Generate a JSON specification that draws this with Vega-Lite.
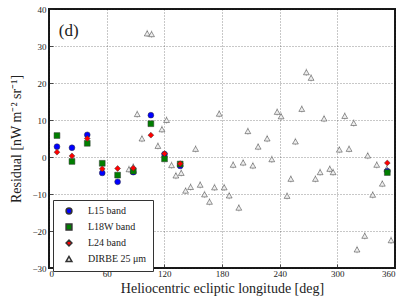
{
  "$schema": "https://vega.github.io/schema/vega-lite/v6.json",
  "autosize": {"type": "none"},
  "padding": {"left": 49, "top": 9, "right": 12, "bottom": 37},
  "width": 346,
  "height": 259,
  "background": "white",
  "config": {
    "view": {"stroke": "#1a1a1a", "strokeWidth": 2},
    "font": "Liberation Serif",
    "axis": {
      "labelFont": "Liberation Serif",
      "labelFontSize": 9,
      "labelColor": "#222",
      "labelOverlap": false,
      "titleFont": "Liberation Serif",
      "titleFontSize": 14,
      "titleFontWeight": "normal",
      "titleColor": "#222",
      "domain": false,
      "grid": true,
      "gridColor": "#000",
      "gridOpacity": 0.55,
      "gridDash": [1, 2],
      "gridWidth": 0.8,
      "ticks": true,
      "tickSize": -4,
      "tickColor": "#222",
      "tickWidth": 0.8
    },
    "legend": {
      "labelFont": "Liberation Serif",
      "labelFontSize": 10,
      "labelColor": "#222"
    }
  },
  "data": {
    "values": [
      {"s": "DIRBE 25 μm", "x": 83.2, "y": -3.3, "e": 1.0},
      {"s": "DIRBE 25 μm", "x": 87.7, "y": -2.6, "e": 1.0},
      {"s": "DIRBE 25 μm", "x": 91.8, "y": 11.6, "e": 1.0},
      {"s": "DIRBE 25 μm", "x": 96.7, "y": 5.0, "e": 1.0},
      {"s": "DIRBE 25 μm", "x": 102.2, "y": 33.4, "e": 1.0},
      {"s": "DIRBE 25 μm", "x": 106.7, "y": 33.2, "e": 1.0},
      {"s": "DIRBE 25 μm", "x": 113.3, "y": 3.0, "e": 1.0},
      {"s": "DIRBE 25 μm", "x": 117.5, "y": 7.5, "e": 1.0},
      {"s": "DIRBE 25 μm", "x": 122.3, "y": 10.0, "e": 1.0},
      {"s": "DIRBE 25 μm", "x": 127.5, "y": -2.2, "e": 1.0},
      {"s": "DIRBE 25 μm", "x": 132.0, "y": -5.0, "e": 1.0},
      {"s": "DIRBE 25 μm", "x": 137.6, "y": -4.3, "e": 1.0},
      {"s": "DIRBE 25 μm", "x": 142.1, "y": -9.1, "e": 1.0},
      {"s": "DIRBE 25 μm", "x": 147.3, "y": -8.1, "e": 1.0},
      {"s": "DIRBE 25 μm", "x": 152.5, "y": 2.2, "e": 1.0},
      {"s": "DIRBE 25 μm", "x": 157.3, "y": -7.5, "e": 1.0},
      {"s": "DIRBE 25 μm", "x": 161.8, "y": -10.1, "e": 1.0},
      {"s": "DIRBE 25 μm", "x": 167.0, "y": -12.1, "e": 1.0},
      {"s": "DIRBE 25 μm", "x": 172.2, "y": -8.2, "e": 1.0},
      {"s": "DIRBE 25 μm", "x": 177.1, "y": 11.7, "e": 1.0},
      {"s": "DIRBE 25 μm", "x": 182.3, "y": -8.2, "e": 1.0},
      {"s": "DIRBE 25 μm", "x": 187.5, "y": -10.4, "e": 1.0},
      {"s": "DIRBE 25 μm", "x": 191.6, "y": -2.1, "e": 1.0},
      {"s": "DIRBE 25 μm", "x": 197.5, "y": -13.7, "e": 1.0},
      {"s": "DIRBE 25 μm", "x": 202.0, "y": -1.5, "e": 1.0},
      {"s": "DIRBE 25 μm", "x": 206.9, "y": 7.0, "e": 1.0},
      {"s": "DIRBE 25 μm", "x": 212.1, "y": -2.3, "e": 1.0},
      {"s": "DIRBE 25 μm", "x": 217.6, "y": 2.8, "e": 1.0},
      {"s": "DIRBE 25 μm", "x": 227.0, "y": 5.0, "e": 1.0},
      {"s": "DIRBE 25 μm", "x": 231.8, "y": -0.6, "e": 1.0},
      {"s": "DIRBE 25 μm", "x": 237.4, "y": 12.2, "e": 1.0},
      {"s": "DIRBE 25 μm", "x": 241.5, "y": 11.0, "e": 1.0},
      {"s": "DIRBE 25 μm", "x": 247.7, "y": -10.5, "e": 1.0},
      {"s": "DIRBE 25 μm", "x": 251.6, "y": -5.9, "e": 1.0},
      {"s": "DIRBE 25 μm", "x": 256.4, "y": 4.2, "e": 1.0},
      {"s": "DIRBE 25 μm", "x": 263.0, "y": 13.0, "e": 1.0},
      {"s": "DIRBE 25 μm", "x": 267.8, "y": 22.9, "e": 1.0},
      {"s": "DIRBE 25 μm", "x": 272.7, "y": 21.4, "e": 1.0},
      {"s": "DIRBE 25 μm", "x": 277.2, "y": -5.9, "e": 1.0},
      {"s": "DIRBE 25 μm", "x": 282.1, "y": -4.1, "e": 1.0},
      {"s": "DIRBE 25 μm", "x": 286.2, "y": 10.4, "e": 1.0},
      {"s": "DIRBE 25 μm", "x": 292.1, "y": -3.2, "e": 1.0},
      {"s": "DIRBE 25 μm", "x": 295.6, "y": -4.1, "e": 1.0},
      {"s": "DIRBE 25 μm", "x": 302.1, "y": 2.0, "e": 1.0},
      {"s": "DIRBE 25 μm", "x": 307.7, "y": 11.1, "e": 1.0},
      {"s": "DIRBE 25 μm", "x": 312.2, "y": 2.2, "e": 1.0},
      {"s": "DIRBE 25 μm", "x": 317.0, "y": 9.2, "e": 1.0},
      {"s": "DIRBE 25 μm", "x": 320.5, "y": -25.0, "e": 1.0},
      {"s": "DIRBE 25 μm", "x": 328.5, "y": -21.3, "e": 1.0},
      {"s": "DIRBE 25 μm", "x": 331.6, "y": 0.4, "e": 1.0},
      {"s": "DIRBE 25 μm", "x": 336.8, "y": -10.2, "e": 1.0},
      {"s": "DIRBE 25 μm", "x": 341.0, "y": -2.1, "e": 1.0},
      {"s": "DIRBE 25 μm", "x": 346.8, "y": -7.2, "e": 1.0},
      {"s": "DIRBE 25 μm", "x": 351.4, "y": -3.2, "e": 1.0},
      {"s": "DIRBE 25 μm", "x": 355.9, "y": -22.5, "e": 1.0},
      {"s": "L15 band", "x": 8.3, "y": 2.8, "e": 0.4},
      {"s": "L15 band", "x": 23.9, "y": 2.5, "e": 0.4},
      {"s": "L15 band", "x": 39.8, "y": 6.0, "e": 0.4},
      {"s": "L15 band", "x": 55.4, "y": -4.3, "e": 0.4},
      {"s": "L15 band", "x": 71.4, "y": -6.7, "e": 0.4},
      {"s": "L15 band", "x": 87.7, "y": -4.1, "e": 0.4},
      {"s": "L15 band", "x": 106.0, "y": 11.3, "e": 0.4},
      {"s": "L15 band", "x": 120.2, "y": 0.8, "e": 0.4},
      {"s": "L15 band", "x": 136.5, "y": -2.4, "e": 0.4},
      {"s": "L15 band", "x": 352.0, "y": -3.8, "e": 0.4},
      {"s": "L18W band", "x": 8.3, "y": 5.8, "e": 0.4},
      {"s": "L18W band", "x": 23.9, "y": -1.2, "e": 0.4},
      {"s": "L18W band", "x": 39.8, "y": 3.7, "e": 0.4},
      {"s": "L18W band", "x": 55.4, "y": -1.7, "e": 0.4},
      {"s": "L18W band", "x": 71.4, "y": -4.9, "e": 0.4},
      {"s": "L18W band", "x": 87.7, "y": -3.8, "e": 0.4},
      {"s": "L18W band", "x": 106.0, "y": 9.0, "e": 0.4},
      {"s": "L18W band", "x": 120.2, "y": -0.5, "e": 0.4},
      {"s": "L18W band", "x": 136.5, "y": -1.9, "e": 0.4},
      {"s": "L18W band", "x": 352.0, "y": -4.2, "e": 0.4},
      {"s": "L24 band", "x": 8.3, "y": 1.3, "e": 0.4},
      {"s": "L24 band", "x": 23.9, "y": 0.3, "e": 0.4},
      {"s": "L24 band", "x": 39.8, "y": 5.0, "e": 0.4},
      {"s": "L24 band", "x": 55.4, "y": -3.2, "e": 0.4},
      {"s": "L24 band", "x": 71.4, "y": -3.1, "e": 0.4},
      {"s": "L24 band", "x": 87.7, "y": -3.0, "e": 0.4},
      {"s": "L24 band", "x": 106.0, "y": 5.9, "e": 0.4},
      {"s": "L24 band", "x": 120.2, "y": 0.9, "e": 0.4},
      {"s": "L24 band", "x": 136.5, "y": -1.8, "e": 0.4},
      {"s": "L24 band", "x": 352.0, "y": -1.6, "e": 0.4}
    ]
  },
  "layer": [
    {
      "transform": [{"filter": "datum.s === 'DIRBE 25 μm'"}],
      "mark": {"type": "errorbar", "ticks": false, "thickness": 1.2, "color": "#c8c8c8"},
      "encoding": {
        "x": {"field": "x", "type": "quantitative", "title": "Heliocentric ecliptic longitude [deg]", "scale": {"domain": [0, 360], "nice": false},
              "axis": {"values": [0, 60, 120, 180, 240, 300, 360], "tickCount": 12, "labelPadding": 5, "titlePadding": 3, "labelOverlap": false}},
        "y": {"field": "y", "type": "quantitative", "title": "Residual [nW m⁻² sr⁻¹]", "scale": {"domain": [-30, 40], "nice": false, "zero": false},
              "axis": {"values": [-30, -20, -10, 0, 10, 20, 30, 40], "tickCount": 12, "labelPadding": 7, "titlePadding": 8, "labelOverlap": false}},
        "yError": {"field": "e"}
      }
    },
    {
      "transform": [{"filter": "datum.s === 'L15 band'"}],
      "mark": {"type": "errorbar", "ticks": false, "thickness": 1.2, "color": "#3b3bff"},
      "encoding": {
        "x": {"field": "x", "type": "quantitative", "title": "Heliocentric ecliptic longitude [deg]"},
        "y": {"field": "y", "type": "quantitative", "title": "Residual [nW m⁻² sr⁻¹]"},
        "yError": {"field": "e"}
      }
    },
    {
      "transform": [{"filter": "datum.s === 'L18W band'"}],
      "mark": {"type": "errorbar", "ticks": false, "thickness": 1.2, "color": "#2a9a2a"},
      "encoding": {
        "x": {"field": "x", "type": "quantitative", "title": "Heliocentric ecliptic longitude [deg]"},
        "y": {"field": "y", "type": "quantitative", "title": "Residual [nW m⁻² sr⁻¹]"},
        "yError": {"field": "e"}
      }
    },
    {
      "transform": [{"filter": "datum.s === 'L24 band'"}],
      "mark": {"type": "errorbar", "ticks": false, "thickness": 1.2, "color": "#ff3b3b"},
      "encoding": {
        "x": {"field": "x", "type": "quantitative", "title": "Heliocentric ecliptic longitude [deg]"},
        "y": {"field": "y", "type": "quantitative", "title": "Residual [nW m⁻² sr⁻¹]"},
        "yError": {"field": "e"}
      }
    },
    {
      "mark": {"type": "point", "filled": true, "stroke": "#333", "strokeWidth": 0.5, "opacity": 1},
      "encoding": {
        "x": {"field": "x", "type": "quantitative", "title": "Heliocentric ecliptic longitude [deg]"},
        "y": {"field": "y", "type": "quantitative", "title": "Residual [nW m⁻² sr⁻¹]"},
        "color": {"field": "s", "type": "nominal",
                  "scale": {"domain": ["L15 band", "L18W band", "L24 band", "DIRBE 25 μm"], "range": ["#0000ff", "#007f00", "#ff0000", "#eeeeee"]},
                  "legend": {"title": null, "orient": "none", "legendX": 4, "legendY": 191, "strokeColor": "#333", "fillColor": "#fff", "padding": 6, "rowPadding": 4, "labelOffset": 14, "symbolOffset": 5}},
        "shape": {"field": "s", "type": "nominal",
                  "scale": {"domain": ["L15 band", "L18W band", "L24 band", "DIRBE 25 μm"], "range": ["circle", "square", "diamond", "triangle-up"]},
                  "legend": {"title": null, "orient": "none", "legendX": 4, "legendY": 191, "strokeColor": "#333", "fillColor": "#fff", "padding": 6, "rowPadding": 4, "labelOffset": 14, "symbolOffset": 5}},
        "size": {"field": "s", "type": "nominal",
                  "scale": {"domain": ["L15 band", "L18W band", "L24 band", "DIRBE 25 μm"], "range": [34, 34, 64, 24]},
                  "legend": {"title": null, "orient": "none", "legendX": 4, "legendY": 191, "strokeColor": "#333", "fillColor": "#fff", "padding": 6, "rowPadding": 4, "labelOffset": 14, "symbolOffset": 5}}
      }
    },
    {
      "data": {"values": [{"t": "(d)", "x": 20.5, "y": 34}]},
      "mark": {"type": "text", "font": "Liberation Serif", "fontSize": 17, "color": "#222", "align": "center", "baseline": "middle"},
      "encoding": {
        "x": {"field": "x", "type": "quantitative", "title": "Heliocentric ecliptic longitude [deg]"},
        "y": {"field": "y", "type": "quantitative", "title": "Residual [nW m⁻² sr⁻¹]"},
        "text": {"field": "t"}
      }
    }
  ]
}
